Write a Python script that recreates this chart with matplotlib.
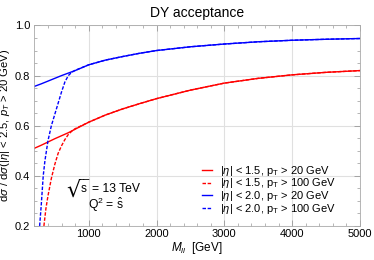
import matplotlib
matplotlib.use('Agg')
import matplotlib.pyplot as plt
from matplotlib.ticker import MultipleLocator

plt.rcParams['font.family'] = ['Liberation Sans', 'DejaVu Sans']
plt.rcParams['mathtext.fontset'] = 'custom'
plt.rcParams['mathtext.rm'] = 'Liberation Sans'
plt.rcParams['mathtext.it'] = 'Liberation Sans:italic'

# Curve values (M_ll in GeV, acceptance ratio)
m_solid = [200, 300, 400, 500, 600, 700, 800, 1000, 1250, 1500, 1750, 2000, 2500, 3000, 3500, 4000, 4500, 5000]
red_solid = [0.510, 0.522, 0.535, 0.548, 0.560, 0.572, 0.586, 0.614, 0.643, 0.667, 0.688, 0.708, 0.742, 0.770, 0.789, 0.803, 0.813, 0.820]
blue_solid = [0.757, 0.767, 0.778, 0.789, 0.800, 0.810, 0.820, 0.843, 0.862, 0.876, 0.889, 0.900, 0.915, 0.926, 0.935, 0.941, 0.945, 0.948]

m_red_dash = [340, 370, 400, 450, 500, 550, 600, 650, 700, 750, 800, 1000, 1250, 1500, 1750, 2000, 2500, 3000, 3500, 4000, 4500, 5000]
red_dash = [0.20, 0.27, 0.32, 0.39, 0.445, 0.49, 0.52, 0.545, 0.565, 0.578, 0.588, 0.614, 0.643, 0.667, 0.688, 0.708, 0.742, 0.770, 0.789, 0.803, 0.813, 0.820]

m_blue_dash = [277, 300, 330, 355, 400, 450, 500, 550, 600, 650, 700, 750, 800, 1000, 1250, 1500, 1750, 2000, 2500, 3000, 3500, 4000, 4500, 5000]
blue_dash = [0.20, 0.28, 0.40, 0.46, 0.54, 0.60, 0.645, 0.69, 0.735, 0.775, 0.800, 0.813, 0.821, 0.843, 0.862, 0.876, 0.889, 0.900, 0.915, 0.926, 0.935, 0.941, 0.945, 0.948]

labels = [r'$|\eta|$ < 1.5, p$_\mathrm{T}$ > 20 GeV',
          r'$|\eta|$ < 1.5, p$_\mathrm{T}$ > 100 GeV',
          r'$|\eta|$ < 2.0, p$_\mathrm{T}$ > 20 GeV',
          r'$|\eta|$ < 2.0, p$_\mathrm{T}$ > 100 GeV']

fig = plt.figure(figsize=(3.74, 2.6), dpi=100)
ax = fig.add_axes([0.092, 0.131, 0.8706, 0.771])

dash = (0, (2.5, 1.2))
ax.plot(m_solid, red_solid, color='#ff0000', lw=1.0, label=labels[0])
ax.plot(m_red_dash, red_dash, color='#ff0000', lw=1.0, ls=dash, label=labels[1])
ax.plot(m_solid, blue_solid, color='#0000ff', lw=1.0, label=labels[2])
ax.plot(m_blue_dash, blue_dash, color='#0000ff', lw=1.0, ls=dash, label=labels[3])

ax.set_xlim(200, 5000)
ax.set_ylim(0.2, 1.0)
ax.xaxis.set_major_locator(MultipleLocator(1000))
ax.xaxis.set_minor_locator(MultipleLocator(200))
ax.yaxis.set_major_locator(MultipleLocator(0.2))
ax.yaxis.set_minor_locator(MultipleLocator(0.05))
ax.tick_params(which='both', direction='in', top=True, right=True, labelsize=8, color='#999999')
ax.tick_params(which='major', length=4, width=0.6)
ax.tick_params(axis='x', which='major', pad=2)
ax.tick_params(axis='y', which='major', pad=3)
ax.tick_params(which='minor', length=2, width=0.5)
ax.grid(which='major', color='#e0e0e0', lw=0.8)
for s in ax.spines.values():
    s.set_color('#aaaaaa')
    s.set_linewidth(0.6)

ax.set_title('DY acceptance', fontsize=10, pad=6)
ax.set_xlabel(r'$M_{ll}$  [GeV]', fontsize=8.5, labelpad=1)
ax.set_ylabel(r'd$\sigma$ / d$\sigma$($|\eta|$ < 2.5, $p_T$ > 20 GeV)', fontsize=8.1, labelpad=1.8)

# sqrt(s) note: tall radical drawn as a glyph, normal-size s inside
px = lambda x, y: (x / 374, 1 - y / 260)
fig.text(*px(66.5, 197), '\u221a', fontsize=16, family='DejaVu Sans', va='baseline')
fig.text(*px(78.5, 187), '\u203e\u203e', fontsize=8, family='DejaVu Sans', va='baseline')
fig.text(*px(81, 192.5), 's', fontsize=8.5, va='baseline')
fig.text(*px(92, 192.5), '= 13 TeV', fontsize=8.7, va='baseline')
fig.text(*px(88, 209.5), r'Q$^2$ = $\hat{\mathrm{s}}$', fontsize=8.7, va='baseline')

ax.legend(loc='upper left', bbox_to_anchor=(0.515, 0.31), fontsize=8, frameon=False,
          handlelength=0.9, handletextpad=0.7, labelspacing=-0.12, borderpad=0, borderaxespad=0)

fig.savefig('out.png', dpi=100)
